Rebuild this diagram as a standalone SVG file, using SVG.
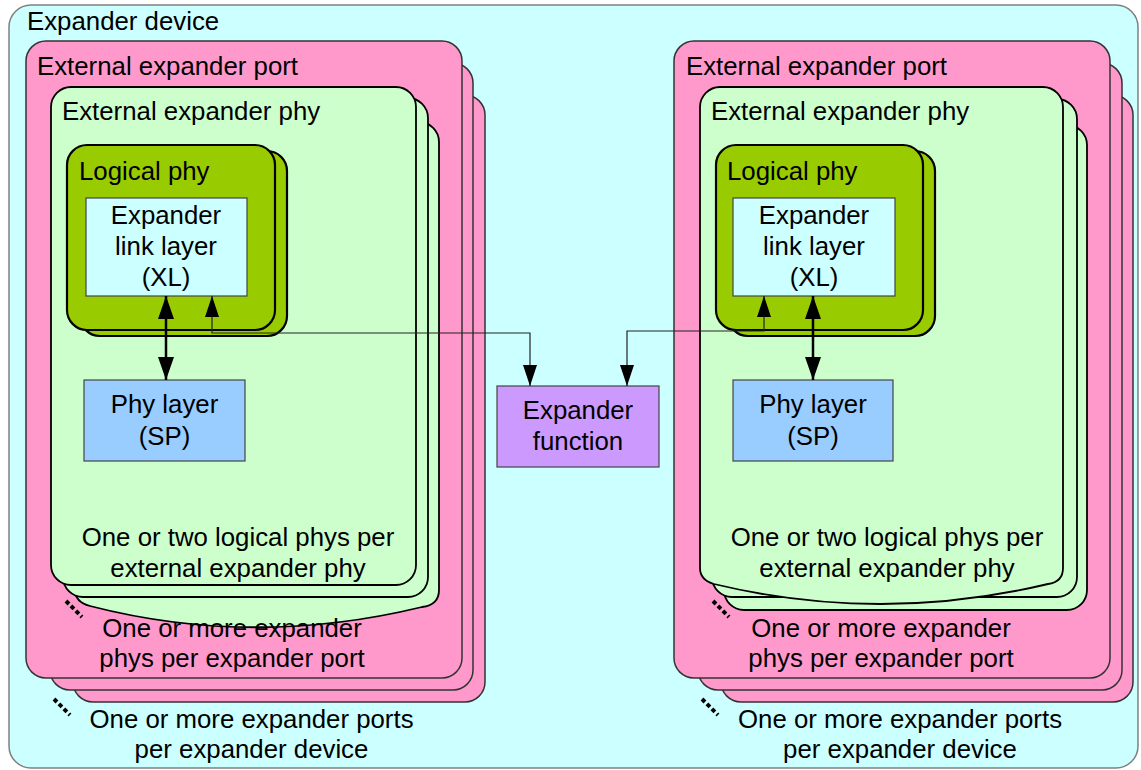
<svg xmlns="http://www.w3.org/2000/svg" width="1141" height="770" viewBox="0 0 1141 770">
<style>
text{font-family:"Liberation Sans",Arial,sans-serif;font-size:25.8px;fill:#000}
.c{text-anchor:middle}
.dev{fill:#ccffff;stroke:#808080;stroke-width:1.5}
.port{fill:#ff99cc;stroke:#333;stroke-width:1.5}
.phy{fill:#ccffcc;stroke:#000;stroke-width:1.8}
.lp{fill:#99cc00;stroke:#000;stroke-width:2.2}
.xl{fill:#ccffff;stroke:#444;stroke-width:1.2}
.sp{fill:#99ccff;stroke:#444;stroke-width:1.2}
.fn{fill:#cc99ff;stroke:#444;stroke-width:1.2}
.thin{fill:none;stroke:#222;stroke-width:1.2;marker-start:url(#ah);marker-end:url(#ah)}
.thick{fill:none;stroke:#000;stroke-width:2.5;marker-start:url(#ahb);marker-end:url(#ahb)}
.dots{stroke:#000;stroke-width:4;stroke-dasharray:4.2 2.8;fill:none}
</style>
<defs>
<marker id="ah" markerUnits="userSpaceOnUse" markerWidth="21" markerHeight="14" refX="21" refY="7" orient="auto-start-reverse"><path d="M0,0 L21,7 L0,14 Z" fill="#000"/></marker>
<marker id="ahb" markerUnits="userSpaceOnUse" markerWidth="23" markerHeight="16" refX="23" refY="8" orient="auto-start-reverse"><path d="M0,0 L23,8 L0,16 Z" fill="#000"/></marker>
</defs>
<g id="expander-device">
<rect class="dev" x="9" y="5" width="1129" height="763" rx="22"/>
<text x="27" y="30">Expander device</text>
</g>
<g id="port-left">
<rect class="port" x="73" y="95" width="412" height="607" rx="20"/>
<rect class="port" x="50" y="63" width="423" height="627" rx="20"/>
<rect class="port" x="26" y="41" width="436" height="637" rx="20"/>
<text x="37" y="75">External expander port</text>
</g>
<g id="phy-left">
<path class="phy" d="M75,142 A20,20 0 0 1 95,122 L419,122 A20,20 0 0 1 439,142 L439,590 Q439,605 422,607 Q253,648 90,606 Q75,602 75,590 Z"/>
<rect class="phy" x="63" y="98" width="365" height="499" rx="20"/>
<rect class="phy" x="51" y="87" width="365" height="498" rx="20"/>
<text x="62" y="120">External expander phy</text>
</g>
<g id="logical-phy-left">
<rect class="lp" x="80" y="151" width="207" height="185" rx="20"/>
<rect class="lp" x="67" y="145" width="208" height="185" rx="20"/>
<text x="79" y="180">Logical phy</text>
</g>
<g id="xl-left">
<rect class="xl" x="86" y="198" width="161" height="98"/>
<text class="c" x="166" y="224">Expander</text>
<text class="c" x="166" y="255">link layer</text>
<text class="c" x="166" y="286">(XL)</text>
</g>
<g id="sp-left">
<rect class="sp" x="84" y="380" width="161" height="81"/>
<text class="c" x="164.5" y="413">Phy layer</text>
<text class="c" x="164.5" y="445">(SP)</text>
</g>
<g id="port-right">
<rect class="port" x="721" y="95" width="412" height="607" rx="20"/>
<rect class="port" x="698" y="63" width="424" height="627" rx="20"/>
<rect class="port" x="674" y="41" width="436" height="637" rx="20"/>
<text x="686" y="75">External expander port</text>
</g>
<g id="phy-right">
<rect class="phy" x="724" y="125" width="363" height="485" rx="20"/>
<rect class="phy" x="712" y="99" width="365" height="498" rx="20"/>
<path class="phy" d="M700,107 A20,20 0 0 1 720,87 L1043,87 A20,20 0 0 1 1063,107 L1063,568 Q1063,582 1048,584 Q880,624 714,584 Q700,580 700,568 Z"/>
<text x="711" y="120">External expander phy</text>
</g>
<g id="logical-phy-right">
<rect class="lp" x="728" y="151" width="207" height="185" rx="20"/>
<rect class="lp" x="716" y="145" width="207" height="185" rx="20"/>
<text x="727" y="180">Logical phy</text>
</g>
<g id="xl-right">
<rect class="xl" x="733" y="198" width="162" height="98"/>
<text class="c" x="814" y="224">Expander</text>
<text class="c" x="814" y="255">link layer</text>
<text class="c" x="814" y="286">(XL)</text>
</g>
<g id="sp-right">
<rect class="sp" x="733" y="380" width="160" height="81"/>
<text class="c" x="813" y="413">Phy layer</text>
<text class="c" x="813" y="445">(SP)</text>
</g>
<g id="expander-function">
<rect class="fn" x="497" y="386" width="162" height="81"/>
<text class="c" x="578" y="419">Expander</text>
<text class="c" x="578" y="450">function</text>
</g>
<g id="connectors">
<line class="thick" x1="166" y1="296" x2="166" y2="380"/>
<line class="thick" x1="813" y1="296" x2="813" y2="380"/>
<polyline class="thin" points="212,296 212,333 530,333 530,386"/>
<polyline class="thin" points="627,386 627,331 764,331 764,296"/>
</g>
<g id="labels">
<text class="c" x="238" y="546">One or two logical phys per</text>
<text class="c" x="238" y="577">external expander phy</text>
<text class="c" x="232" y="637">One or more expander</text>
<text class="c" x="232" y="667">phys per expander port</text>
<text class="c" x="251.5" y="728">One or more expander ports</text>
<text class="c" x="251.5" y="758">per expander device</text>
<text class="c" x="887" y="546">One or two logical phys per</text>
<text class="c" x="887" y="577">external expander phy</text>
<text class="c" x="881" y="637">One or more expander</text>
<text class="c" x="881" y="667">phys per expander port</text>
<text class="c" x="900" y="728">One or more expander ports</text>
<text class="c" x="900" y="758">per expander device</text>
<line class="dots" x1="66" y1="601" x2="82" y2="617"/>
<line class="dots" x1="54" y1="699" x2="70" y2="715"/>
<line class="dots" x1="713" y1="601" x2="729" y2="617"/>
<line class="dots" x1="702" y1="699" x2="718" y2="715"/>
</g>
</svg>
